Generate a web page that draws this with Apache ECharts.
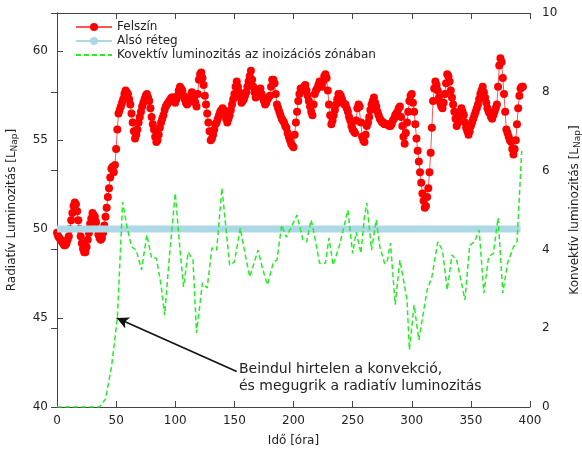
<!DOCTYPE html>
<html>
<head>
<meta charset="utf-8">
<script src="https://cdn.jsdelivr.net/npm/echarts@6/dist/echarts.min.js"></script>
<style>
  html, body { margin: 0; padding: 0; background: #fff; }
  #chart { width: 582px; height: 449px; }
</style>
</head>
<body>
<div id="chart"></div>
<script>
// Felszín: radiatív luminozitás, óránként (0..394 óra)
const felszinLepes = 1;
const felszin = [
  49.8, 49.6, 49.5, 49.4, 49.3, 49.2, 49.1, 49.1, 49.2, 49.4,
  49.6, 50.0, 50.5, 50.9, 51.3, 51.5, 51.4, 51.0, 50.5, 50.0,
  49.6, 49.2, 48.9, 48.7, 48.7, 49.0, 49.4, 49.8, 50.3, 50.6,
  50.9, 50.8, 50.7, 50.4, 50.0, 49.7, 49.5, 49.4, 49.5, 49.8,
  50.2, 50.7, 51.2, 51.8, 52.3, 52.9, 53.4, 53.5, 53.2, 53.6,
  54.5, 55.6, 56.5, 56.7, 56.9, 57.1, 57.3, 57.6, 57.8, 57.7,
  57.6, 57.3, 57.0, 56.5, 56.0, 55.5, 55.1, 55.3, 55.6, 56.0,
  56.3, 56.6, 56.9, 57.1, 57.3, 57.5, 57.6, 57.4, 57.2, 56.8,
  56.3, 55.9, 55.6, 55.2, 54.9, 55.0, 55.3, 55.7, 56.0, 56.2,
  56.4, 56.7, 56.9, 57.0, 57.1, 57.2, 57.3, 57.4, 57.4, 57.2,
  57.1, 57.3, 57.5, 57.8, 58.0, 57.9, 57.8, 57.5, 57.3, 57.1,
  57.0, 57.1, 57.2, 57.5, 57.7, 57.5, 57.3, 57.1, 56.9, 57.6,
  58.4, 58.7, 58.8, 58.5, 58.1, 57.5, 57.0, 56.5, 56.0, 55.5,
  55.0, 55.1, 55.3, 55.6, 55.9, 56.0, 56.2, 56.4, 56.6, 56.7,
  56.8, 56.7, 56.5, 56.2, 56.0, 56.2, 56.4, 56.7, 57.0, 57.3,
  57.6, 58.0, 58.3, 58.0, 57.7, 57.4, 57.1, 57.2, 57.3, 57.5,
  57.7, 58.0, 58.3, 58.6, 58.9, 58.4, 58.0, 57.7, 57.4, 57.5,
  57.6, 57.8, 57.9, 57.6, 57.4, 57.2, 57.0, 57.1, 57.3, 57.4,
  57.5, 58.0, 58.4, 58.4, 58.2, 57.6, 57.0, 56.8, 56.6, 56.4,
  56.2, 56.1, 56.0, 55.8, 55.7, 55.4, 55.2, 55.0, 54.8, 54.7,
  54.6, 55.3, 56.0, 56.6, 57.2, 57.6, 57.9, 57.8, 57.8, 58.0,
  58.1, 57.8, 57.5, 57.2, 56.9, 56.6, 56.4, 57.0, 57.6, 57.8,
  57.9, 58.1, 58.3, 58.1, 58.0, 58.3, 58.6, 58.7, 58.5, 57.8,
  57.0, 56.4, 55.9, 56.1, 56.4, 56.7, 57.0, 57.3, 57.6, 57.6,
  57.5, 57.3, 57.1, 57.0, 57.0, 56.8, 56.6, 56.3, 56.1, 55.8,
  55.6, 55.5, 55.4, 56.1, 56.8, 57.0, 56.9, 56.0, 55.2, 55.0,
  54.9, 55.3, 55.8, 56.0, 56.3, 56.7, 57.0, 57.2, 57.4, 57.1,
  56.9, 56.6, 56.4, 56.2, 56.1, 56.0, 56.0, 55.9, 55.9, 55.9,
  55.9, 55.8, 55.8, 55.9, 56.1, 56.2, 56.4, 56.5, 56.6, 56.8,
  56.9, 56.3, 55.8, 55.2, 54.8, 55.4, 56.0, 56.6, 57.2, 57.5,
  57.6, 57.1, 56.6, 55.9, 55.1, 54.4, 53.8, 53.2, 52.6, 52.0,
  51.6, 51.2, 51.3, 51.8, 52.3, 53.2, 54.3, 55.7, 57.2, 57.9,
  58.3, 58.1, 57.8, 57.4, 57.1, 56.9, 56.8, 57.1, 57.6, 58.2,
  58.7, 58.6, 58.3, 57.8, 57.4, 57.0, 56.6, 56.2, 55.8, 56.0,
  56.3, 56.6, 56.8, 56.6, 56.4, 56.0, 55.7, 55.5, 55.3, 55.5,
  55.8, 56.0, 56.2, 56.4, 56.6, 56.8, 57.0, 57.3, 57.6, 57.8,
  58.0, 57.7, 57.4, 57.1, 56.8, 56.6, 56.5, 56.3, 56.2, 56.4,
  56.6, 56.8, 57.0, 58.0, 59.2, 59.6, 59.4, 58.5, 57.6, 56.6,
  55.6, 55.4, 55.2, 55.0, 54.9, 54.5, 54.2, 54.5, 55.0, 55.9,
  56.8, 57.5, 57.9, 58.0, 58.0
];

// Alsó réteg
const alsoIdo = [0, 392];
const alsoErtek = [50, 50];

// Konvektív luminozitás az inoizációs zónában (jobb tengely)
const konvIdo = [
  0, 36, 41, 46, 51, 55.5, 59, 63, 67, 71.5, 76, 80, 84, 88, 91, 95, 100, 104, 107, 111,
  115, 118, 123, 127, 131, 135, 139.5, 143, 146, 150, 155, 159, 163, 170, 174, 178, 183, 186, 190, 194,
  197, 203, 208, 211, 215, 218, 222, 227, 230, 233.5, 239, 246, 250, 253, 257, 260, 262, 266, 270, 273,
  277, 279, 282, 286, 290, 296, 298, 302, 306, 313, 317, 322, 326, 330, 334, 338, 345, 349, 353, 357,
  361, 365, 369, 373, 377, 381, 386, 389, 393
];
const konvErtek = [
  0, 0, 0.2, 1.0, 2.25, 5.2, 4.6, 4.07, 3.98, 3.48, 4.37, 3.78, 3.78, 3.1, 2.33, 3.8, 5.43, 4.0, 3.05, 3.93,
  3.73, 1.88, 3.15, 3.02, 4.04, 3.98, 5.56, 4.5, 3.6, 3.68, 4.54, 3.9, 3.3, 3.98, 3.5, 3.1, 3.68, 3.73, 4.62, 4.31,
  4.5, 4.87, 4.24, 4.19, 4.75, 4.31, 3.65, 3.65, 4.29, 3.6, 4.11, 5.0, 3.9, 4.44, 3.9, 4.82, 5.18, 3.98, 4.75, 4.06,
  3.65, 3.65, 4.16, 2.6, 3.73, 2.72, 1.45, 2.59, 1.7, 2.97, 3.3, 4.19, 3.98, 2.97, 3.86, 3.73, 2.72, 4.11, 4.19, 4.49,
  2.89, 3.81, 3.9, 4.8, 2.89, 3.65, 4.06, 4.19, 6.5
];

// nyíl: [óra, radiatív] -> [óra, radiatív]
const nyilKezdet = [152, 42.0];
const nyilVeg = [50.5, 45.0];

const xTicks = { min: 0, max: 400, interval: 50 };
const yBal = { min: 40, max: 62.15, interval: 5 };
const yJobb = { min: 0, max: 10, interval: 2 };

const font = "DejaVu Sans";
const axisColor = "#444";
const textColor = "#222";

const chart = echarts.init(document.getElementById("chart"));

const subRich = { sub: { fontFamily: font, fontSize: 9, color: textColor, padding: [5, 0, 0, 0] } };

const option = {
  animation: false,
  backgroundColor: "#fff",
  textStyle: { fontFamily: font },
  grid: { left: 57, right: 52, top: 13, bottom: 42, outerBoundsMode: "none", containLabel: false },
  legend: {
    orient: "vertical",
    left: 70,
    top: 15,
    itemWidth: 36,
    itemHeight: 10,
    itemGap: 0,
    textStyle: { fontFamily: font, fontSize: 12, color: textColor, lineHeight: 14 },
    data: [
      "Felszín",
      "Alsó réteg",
      { name: "Kovektív luminozitás az inoizációs zónában", itemStyle: { color: "rgba(0,0,0,0)", borderWidth: 0 } },
    ],
  },
  xAxis: [
    {
      type: "value",
      min: xTicks.min,
      max: xTicks.max,
      interval: xTicks.interval,
      name: "Idő [óra]",
      nameLocation: "middle",
      nameGap: 28,
      nameTextStyle: { fontFamily: font, fontSize: 12, color: textColor },
      axisLine: { show: true, lineStyle: { color: axisColor, width: 1 } },
      axisTick: { show: true, inside: true, length: 6, lineStyle: { color: axisColor } },
      axisLabel: { fontFamily: font, fontSize: 12, color: textColor, margin: 8 },
      splitLine: { show: false },
    },
    {
      type: "value",
      position: "top",
      min: xTicks.min,
      max: xTicks.max,
      interval: xTicks.interval,
      axisLine: { show: true, lineStyle: { color: axisColor, width: 1 } },
      axisTick: { show: true, inside: true, length: 6, lineStyle: { color: axisColor } },
      axisLabel: { show: false },
      splitLine: { show: false },
    },
  ],
  yAxis: [
    {
      type: "value",
      position: "left",
      min: yBal.min,
      max: yBal.max,
      interval: yBal.interval,
      name: "Radiatív Luminozitás [L{sub|Nap}]",
      nameLocation: "middle",
      nameGap: 38,
      nameTextStyle: { fontFamily: font, fontSize: 12, color: textColor, rich: subRich },
      axisLine: { show: true, lineStyle: { color: axisColor, width: 1 } },
      axisTick: { show: true, inside: true, length: 6, lineStyle: { color: axisColor } },
      axisLabel: { fontFamily: font, fontSize: 12, color: textColor, margin: 9, showMaxLabel: false },
      splitLine: { show: false },
    },
    {
      type: "value",
      position: "right",
      min: yJobb.min,
      max: yJobb.max,
      interval: yJobb.interval,
      name: "Konvektív luminozitás [L{sub|Nap}]",
      nameLocation: "middle",
      nameGap: 38,
      nameTextStyle: { fontFamily: font, fontSize: 12, color: textColor, rich: subRich },
      axisLine: { show: true, lineStyle: { color: axisColor, width: 1 } },
      axisTick: { show: true, inside: true, length: 6, lineStyle: { color: axisColor } },
      axisLabel: { fontFamily: font, fontSize: 12, color: textColor, margin: 12 },
      splitLine: { show: false },
    },
  ],
  series: [
    {
      name: "Felszín",
      type: "line",
      xAxisIndex: 0,
      yAxisIndex: 0,
      z: 2,
      data: felszin.map((v, i) => [i * felszinLepes, v]),
      symbol: "circle",
      symbolSize: 8,
      showAllSymbol: true,
      itemStyle: { color: "#ff0000" },
      lineStyle: { color: "#ff5555", width: 1 },
      markLine: {
        silent: true,
        symbol: ["none", "arrow"],
        symbolSize: [9, 12],
        label: { show: false },
        lineStyle: { color: "#111", width: 1.6, type: "solid" },
        data: [[{ coord: nyilKezdet }, { coord: nyilVeg }]],
      },
    },
    {
      name: "Alsó réteg",
      type: "line",
      xAxisIndex: 0,
      yAxisIndex: 0,
      z: 3,
      data: alsoIdo.map((t, i) => [t, alsoErtek[i]]),
      symbol: "circle",
      symbolSize: 7,
      showSymbol: false,
      itemStyle: { color: "#add8e6" },
      lineStyle: { color: "#add8e6", width: 7 },
    },
    {
      name: "Kovektív luminozitás az inoizációs zónában",
      type: "line",
      xAxisIndex: 0,
      yAxisIndex: 1,
      z: 4,
      data: konvIdo.map((t, i) => [t, konvErtek[i]]),
      symbol: "none",
      itemStyle: { color: "#22ee22" },
      lineStyle: { color: "#22ee22", width: 1.5, type: [5, 3] },
    },
  ],
  graphic: [
    {
      type: "text",
      left: 239,
      top: 361,
      style: {
        text: "Beindul hirtelen a konvekció,\nés megugrik a radiatív luminozitás",
        font: "14px DejaVu Sans",
        fill: textColor,
        lineHeight: 17,
      },
    },
  ],
};

chart.setOption(option);
</script>
</body>
</html>
